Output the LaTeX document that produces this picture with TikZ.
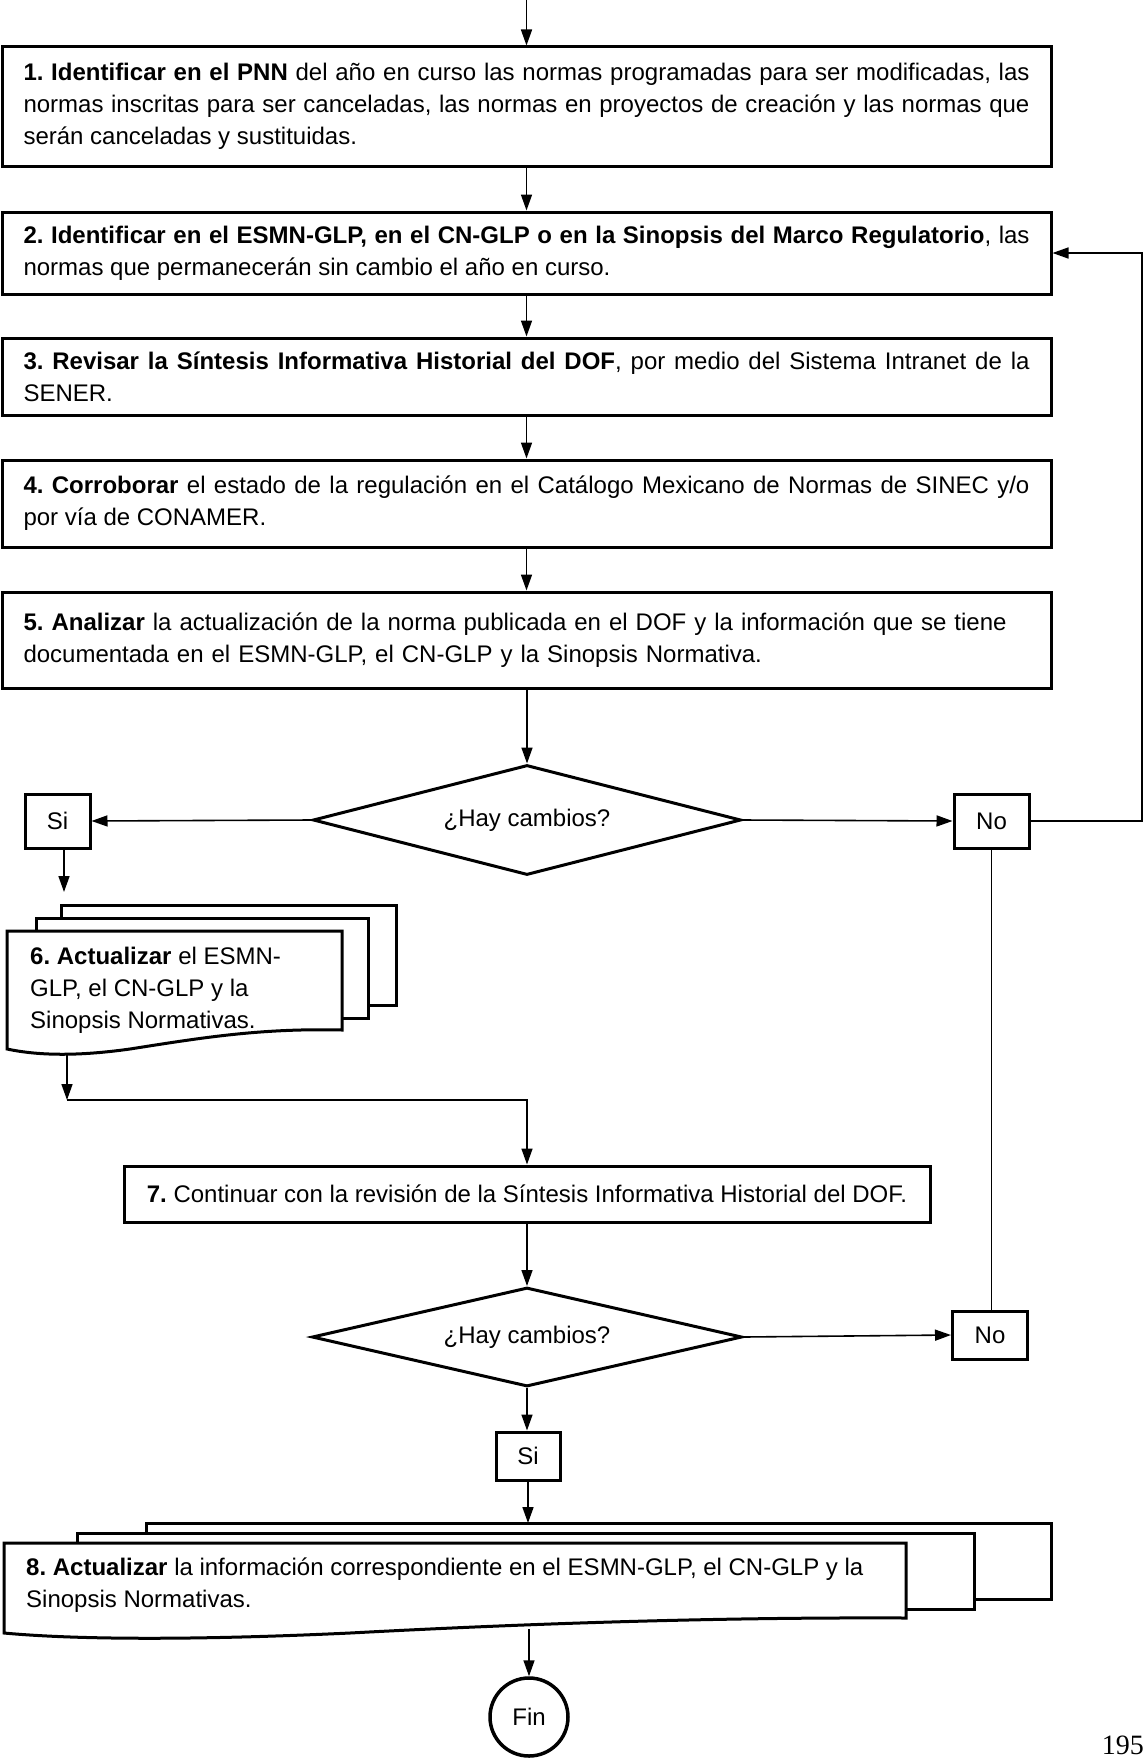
\documentclass[tikz,border=0pt]{standalone}
\usepackage{fontspec}
\setmainfont{Liberation Sans}
\newfontfamily\pgserif{Liberation Serif}
\usetikzlibrary{shapes.geometric,arrows.meta,calc}
\hyphenpenalty=10000
\exhyphenpenalty=10000
\frenchspacing
\begin{document}
\begin{tikzpicture}[x=1pt,y=-1pt,
  txt/.style={font=\fontsize{24}{32}\selectfont},
  box/.style={draw,line width=3pt,rectangle,txt,inner xsep=21.5pt,inner ysep=0pt,text width=1006pt,minimum width=1049pt},
  sbox/.style={draw,line width=3pt,rectangle,txt,inner sep=0pt},
  dia/.style={draw,line width=3pt,diamond,txt,inner sep=0pt},
  sheet/.style={draw,fill=white,line width=3pt,line join=miter},
  conn/.style={line width=1.6pt},
  arr/.style={conn,-{Triangle[length=16pt,width=11pt]}}
]
\useasboundingbox (0,0) rectangle (1144,1758);

% main column
\coordinate (start) at (526.5,0);
\node[box,align=justify,minimum height=119pt] (b1) at (526.5,106.5) {\textbf{1. Identificar en el PNN} del año en curso las normas programadas para ser modificadas, las normas inscritas para ser canceladas, las normas en proyectos de creación y las normas que serán canceladas y sustituidas.};
\node[box,align=justify,minimum height=82pt] (b2) at (526.5,253) {\textbf{2. Identificar en el ESMN-GLP, en el CN-GLP o en la Sinopsis del Marco Regulatorio}, las normas que permanecerán sin cambio el año en curso.};
\node[box,align=justify,minimum height=77pt] (b3) at (526.5,376.5) {\textbf{3. Revisar la Síntesis Informativa Historial del DOF}, por medio del Sistema Intranet de la SENER.};
\node[box,align=justify,minimum height=87pt] (b4) at (526.5,503.5) {\textbf{4. Corroborar} el estado de la regulación en el Catálogo Mexicano de Normas de SINEC y/o\linebreak por vía de CONAMER.};
\node[box,align=left,minimum height=96pt] (b5) at (526.5,640) {\textbf{5. Analizar} la actualización de la norma publicada en el DOF y la información que se tiene documentada en el ESMN-GLP, el CN-GLP y la Sinopsis Normativa.};

\draw[arr] (start) -- (b1.north);
\draw[arr] (b1) -- (b2);
\draw[arr] (b2) -- (b3);
\draw[arr] (b3) -- (b4);
\draw[arr] (b4) -- (b5);

% first decision
\node[dia,aspect=3.9,minimum width=428pt,minimum height=110pt] (d1) at (527,820) {¿Hay cambios?};
\node[sbox,minimum width=65pt,minimum height=54pt] (si1) at (57.5,821) {Si};
\node[sbox,minimum width=75pt,minimum height=54pt] (no1) at (991.5,821) {No};
\draw[arr] (b5.south -| d1.north) -- (d1.north);
\draw[arr] (d1.west) -- (si1.east);
\draw[arr] (d1.east) -- (no1.west);
\coordinate (fbk) at (1142,253);
\draw[arr] (no1.east) -| (fbk) -- (b2.east);

% document 6
\draw[sheet] (61,905) rectangle (396,1005);
\draw[sheet] (36,918) rectangle (368,1018);
\draw[sheet] (7,931) -- (342,931) -- (342,1030) .. controls (260,1028) and (200,1038) .. (130,1049) .. controls (80,1056) and (40,1056) .. (7,1049) -- cycle;
\node[txt,anchor=west,align=left,inner sep=0pt] (doc6) at (30,990) {\textbf{6. Actualizar} el ESMN-\\GLP, el CN-GLP y la\\Sinopsis Normativas.};
\coordinate (d6in) at (64,892);
\draw[arr] (si1.south -| d6in) -- (d6in);
\coordinate (d6out) at (67,1053);
\coordinate (j1) at (67,1100);
\draw[arr] (d6out) -- (j1);

% step 7
\node[sbox,minimum width=806pt,minimum height=56pt] (b7) at (527,1194) {\textbf{7.} Continuar con la revisión de la Síntesis Informativa Historial del DOF.};
\draw[arr] (j1) -| (b7.north);

% second decision
\node[dia,aspect=4.3,minimum width=430pt,minimum height=99pt] (d2) at (527,1337) {¿Hay cambios?};
\node[sbox,minimum width=75pt,minimum height=48pt] (no2) at (990,1335) {No};
\node[sbox,minimum width=64pt,minimum height=48pt] (si2) at (528,1456) {Si};
\draw[arr] (b7) -- (d2);
\draw[arr] (d2.east) -- (no2.west);
\draw[conn] (no1.south) -- (no1.south |- no2.north);
\draw[arr] (d2.south) -- (d2.south |- si2.north);

% document 8
\draw[sheet] (146,1523) rectangle (1051,1599);
\draw[sheet] (77,1533) rectangle (974,1609);
\draw[sheet] (4,1543) -- (906,1543) -- (906,1618) .. controls (700,1617) and (500,1625) .. (350,1633) .. controls (200,1640) and (80,1640) .. (4,1633) -- cycle;
\node[txt,anchor=west,align=left,inner sep=0pt] (doc8) at (26,1585) {\textbf{8. Actualizar} la información correspondiente en el ESMN-GLP, el CN-GLP y la\\Sinopsis Normativas.};
\coordinate (d8in) at (528,1523);
\draw[arr] (si2.south) -- (d8in);

% end
\node[draw,circle,line width=3.5pt,minimum size=78pt,txt,inner sep=0pt] (fin) at (529,1717) {Fin};
\coordinate (d8out) at (529,1629);
\draw[arr] (d8out) -- (fin.north);

\node[font=\pgserif\fontsize{28}{28}\selectfont,anchor=east,inner sep=0pt] (pg) at (1144,1745) {195};
\end{tikzpicture}
\end{document}
